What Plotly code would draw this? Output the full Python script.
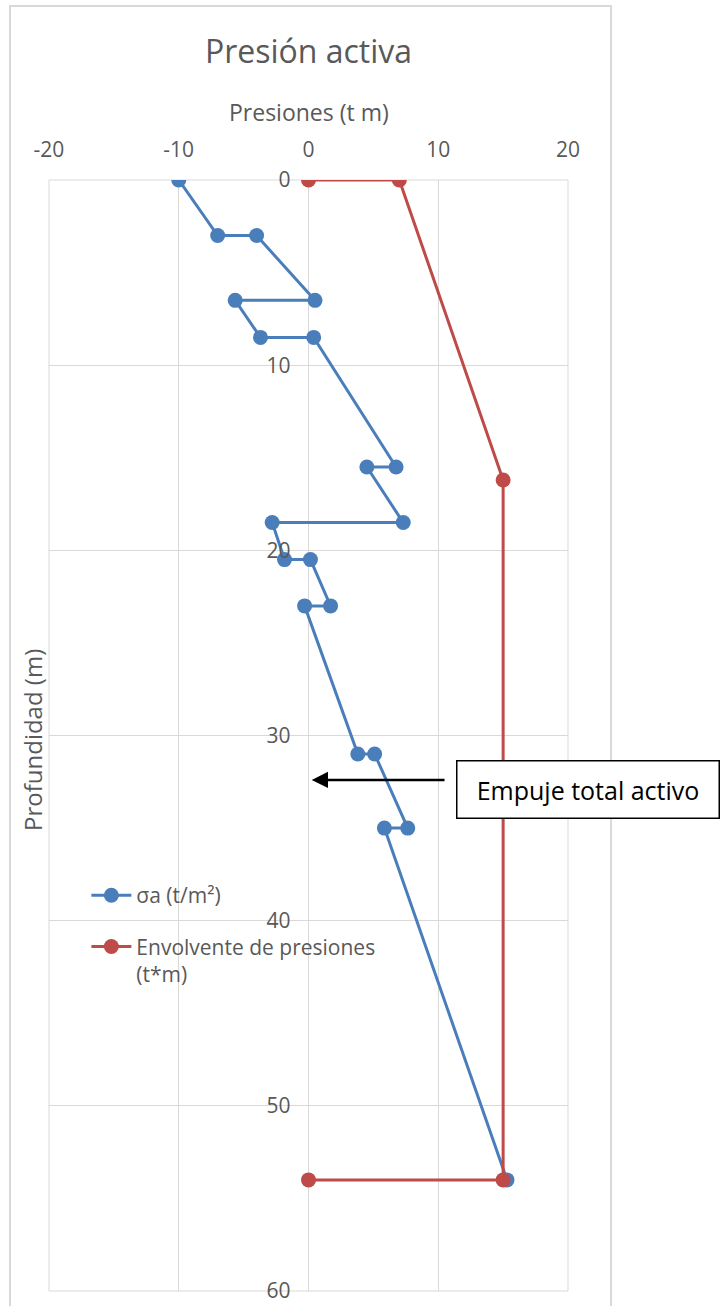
import plotly.graph_objects as go

# Active earth pressure profile: pressure (x) against depth (y)
sigma_a_x = [-10, -7, -4, 0.5, -5.65, -3.7, 0.4, 6.75, 4.5, 7.3, -2.8, -1.85, 0.15,
             1.7, -0.3, 3.8, 5.1, 7.65, 5.85, 15.3]
sigma_a_depth = [0, 3, 3, 6.5, 6.5, 8.5, 8.5, 15.5, 15.5, 18.5, 18.5, 20.5, 20.5,
                 23, 23, 31, 31, 35, 35, 54]

envelope_x = [0, 7, 15, 15, 0]
envelope_depth = [0, 0, 16.2, 54, 54]

x_ticks = [-20, -10, 0, 10, 20]
y_ticks = [0, 10, 20, 30, 40, 50, 60]

BLUE = "#4a7ebb"
RED = "#be4b48"
GRID = "#d9d9d9"
TEXT = "#595959"
FONT = "Open Sans"

fig = go.Figure()
fig.add_trace(go.Scatter(
    x=sigma_a_x, y=sigma_a_depth, mode="lines+markers",
    name="σa (t/m²)", legendgroup="a",
    line=dict(color=BLUE, width=3),
    marker=dict(color=BLUE, size=15),
))
fig.add_trace(go.Scatter(
    x=envelope_x, y=envelope_depth, mode="lines+markers",
    name="Envolvente de presiones<br>(t*m)", legendgroup="b",
    line=dict(color=RED, width=3),
    marker=dict(color=RED, size=15),
))

fig.update_layout(
    width=726, height=1306,
    margin=dict(l=49, r=158, t=180, b=15, autoexpand=False),
    paper_bgcolor="white", plot_bgcolor="white",
    font=dict(family=FONT, color=TEXT),
    title=dict(text="Presión activa", x=(49 + 259.5) / 726, xanchor="center",
               yref="container", y=1 - 52 / 1306, yanchor="middle",
               font=dict(size=32, color=TEXT, family=FONT)),
    showlegend=True,
    legend=dict(x=0.072, y=0.3744, xanchor="left", yanchor="top",
                bgcolor="rgba(0,0,0,0)", font=dict(size=21, color=TEXT),
                valign="top", traceorder="grouped", tracegroupgap=21,
                itemwidth=40),
    xaxis=dict(range=[-20, 20], tickvals=x_ticks,
               ticktext=[str(v) for v in x_ticks], side="top",
               showgrid=True, gridcolor=GRID, gridwidth=1, zeroline=False,
               showline=False, ticks="", ticklabelstandoff=18, automargin=False,
               tickfont=dict(size=21, color=TEXT)),
    yaxis=dict(range=[60, 0], tickvals=y_ticks,
               ticktext=[str(v) for v in y_ticks], anchor="free", position=0.5,
               showgrid=True, gridcolor=GRID, gridwidth=1, zeroline=False,
               showline=False, ticks="", ticklabelstandoff=18, automargin=False,
               tickfont=dict(size=21, color=TEXT)),
    shapes=[
        dict(type="rect", xref="paper", yref="paper", x0=0, x1=1, y0=0, y1=1,
             line=dict(color=GRID, width=1), layer="below"),
        dict(type="rect", xref="paper", yref="paper",
             x0=(10 - 49) / 519, x1=(611 - 49) / 519,
             y0=-(1315 - 1291) / 1111, y1=1 + (180 - 6) / 1111,
             line=dict(color=GRID, width=2), layer="below"),
    ],
    annotations=[
        dict(text="Presiones (t m)", xref="paper", yref="paper",
             x=0.5, y=1 + (180 - 112) / 1111, xanchor="center", yanchor="middle",
             showarrow=False, font=dict(size=23, color=TEXT)),
        dict(text="Profundidad (m)", xref="paper", yref="paper",
             x=(32 - 49) / 519, y=1 - (740 - 180) / 1111, xanchor="center",
             yanchor="middle", textangle=-90, showarrow=False,
             font=dict(size=24, color=TEXT)),
        dict(text="", x=0.25, y=32.4, ax=10.6, ay=32.4, axref="x", ayref="y",
             xref="x", yref="y", showarrow=True, arrowhead=2, arrowsize=1.3,
             arrowwidth=2.5, arrowcolor="black", standoff=0),
        dict(text="Empuje total activo", xref="paper", yref="paper",
             x=(587.5 - 49) / 519, y=1 - (789 - 180) / 1111,
             xanchor="center", yanchor="middle", showarrow=False,
             width=255, height=50, borderpad=3, bordercolor="black",
             borderwidth=1.5, bgcolor="white",
             font=dict(size=25, color="black", family=FONT)),
    ],
)

fig.write_html("out.html")
